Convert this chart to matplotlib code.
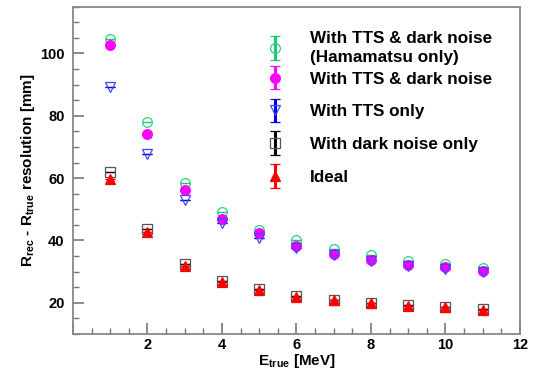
import numpy as np
import matplotlib
matplotlib.use("Agg")
import matplotlib.pyplot as plt
from matplotlib.legend_handler import HandlerErrorbar
from matplotlib.ticker import MultipleLocator, FuncFormatter

plt.rcParams["font.family"] = ["Liberation Sans", "DejaVu Sans"]
plt.rcParams["font.weight"] = "bold"
plt.rcParams["mathtext.fontset"] = "custom"
plt.rcParams["mathtext.rm"] = "Liberation Sans:bold"
plt.rcParams["mathtext.default"] = "rm"

# E_true [MeV]
energy = [1, 2, 3, 4, 5, 6, 7, 8, 9, 10, 11]

# resolution [mm]
tts_dn_hama = [104.8, 78.0, 58.4, 49.0, 43.4, 40.0, 37.2, 35.3, 33.4, 32.5, 31.2]
tts_dn = [102.8, 74.2, 56.2, 46.9, 42.4, 38.3, 35.7, 33.8, 32.2, 31.4, 30.2]
tts_only = [89.2, 67.7, 53.0, 45.6, 40.8, 37.5, 35.3, 33.3, 31.8, 31.0, 29.9]
dn_only = [62.0, 43.7, 32.4, 27.0, 24.4, 22.2, 21.0, 20.0, 19.4, 18.7, 18.0]
ideal = [59.7, 42.6, 31.9, 26.8, 24.2, 22.0, 20.8, 19.9, 19.1, 18.5, 17.8]

labels = [
    "With TTS & dark noise\n(Hamamatsu only)",
    "With TTS & dark noise",
    "With TTS only",
    "With dark noise only",
    "Ideal",
]

# (série, marcador, cor da barra, face, borda)
series = [
    (tts_dn_hama, "o", "#1ec86e", "none", "#2ed27a"),
    (tts_dn, "o", "#ff00ff", "#ff00ff", "#ff00ff"),
    (tts_only, "v", "#0000e6", "none", "#3c46ff"),
    (dn_only, "s", "#000000", "none", "#555555"),
    (ideal, "^", "#ff0000", "#ff0000", "#ff0000"),
]

fig = plt.figure(figsize=(5.35, 3.73), dpi=100)
ax = fig.add_axes([0.1364, 0.1046, 0.8355, 0.8774])

handles = []
for (vals, mk, col, face, edge), lab in zip(series, labels):
    ms = 7.5 if mk in ("v", "^") else 7
    h = ax.errorbar(energy, vals, yerr=np.zeros(len(vals)), fmt=mk, ms=ms,
                    mfc=face, mec=edge, mew=0.9, ecolor=col, elinewidth=2.2,
                    capsize=3.5, capthick=2.2, label=lab, zorder=3)
    handles.append(h)

ax.set_xlim(0, 12)
ax.set_ylim(10, 115)
ax.xaxis.set_major_locator(MultipleLocator(2))
ax.xaxis.set_minor_locator(MultipleLocator(0.5))
ax.xaxis.set_major_formatter(FuncFormatter(lambda v, p: "" if v == 0 else f"{v:g}"))
ax.yaxis.set_major_locator(MultipleLocator(20))
ax.yaxis.set_minor_locator(MultipleLocator(5))
ax.tick_params(which="both", direction="in", color="#777777", top=False, right=False)
ax.tick_params(which="major", length=8, width=1.2, labelsize=10.5)
ax.tick_params(axis="x", which="major", pad=3)
ax.tick_params(axis="y", which="major", pad=6)
ax.tick_params(which="minor", length=4, width=1.0)
for s in ax.spines.values():
    s.set_color("#888888")
    s.set_linewidth(1.3)

ax.set_xlabel(r"E$_{true}$ [MeV]", fontsize=11, fontweight="bold", labelpad=0)
ax.set_ylabel(r"R$_{rec}$ - R$_{true}$ resolution [mm]", fontsize=11,
              fontweight="bold", labelpad=2)

# legenda em dois blocos: a 1a entrada tem duas linhas mais juntas
hmap = {type(handles[0]): HandlerErrorbar(yerr_size=0.7)}
common = dict(loc="upper left", frameon=False, fontsize=12.3, handlelength=1.0,
              handletextpad=1.55, labelspacing=1.05, borderpad=0, borderaxespad=0,
              handler_map=hmap)
leg1 = ax.legend(handles=handles[:1], bbox_to_anchor=(0.433, 0.926), **common)
for t in leg1.get_texts():
    t.set_fontweight("bold")
    t.set_linespacing(1.3)
ax.add_artist(leg1)
leg2 = ax.legend(handles=handles[1:], bbox_to_anchor=(0.433, 0.802), **common)
for t in leg2.get_texts():
    t.set_fontweight("bold")

fig.savefig("out.png", dpi=100)
